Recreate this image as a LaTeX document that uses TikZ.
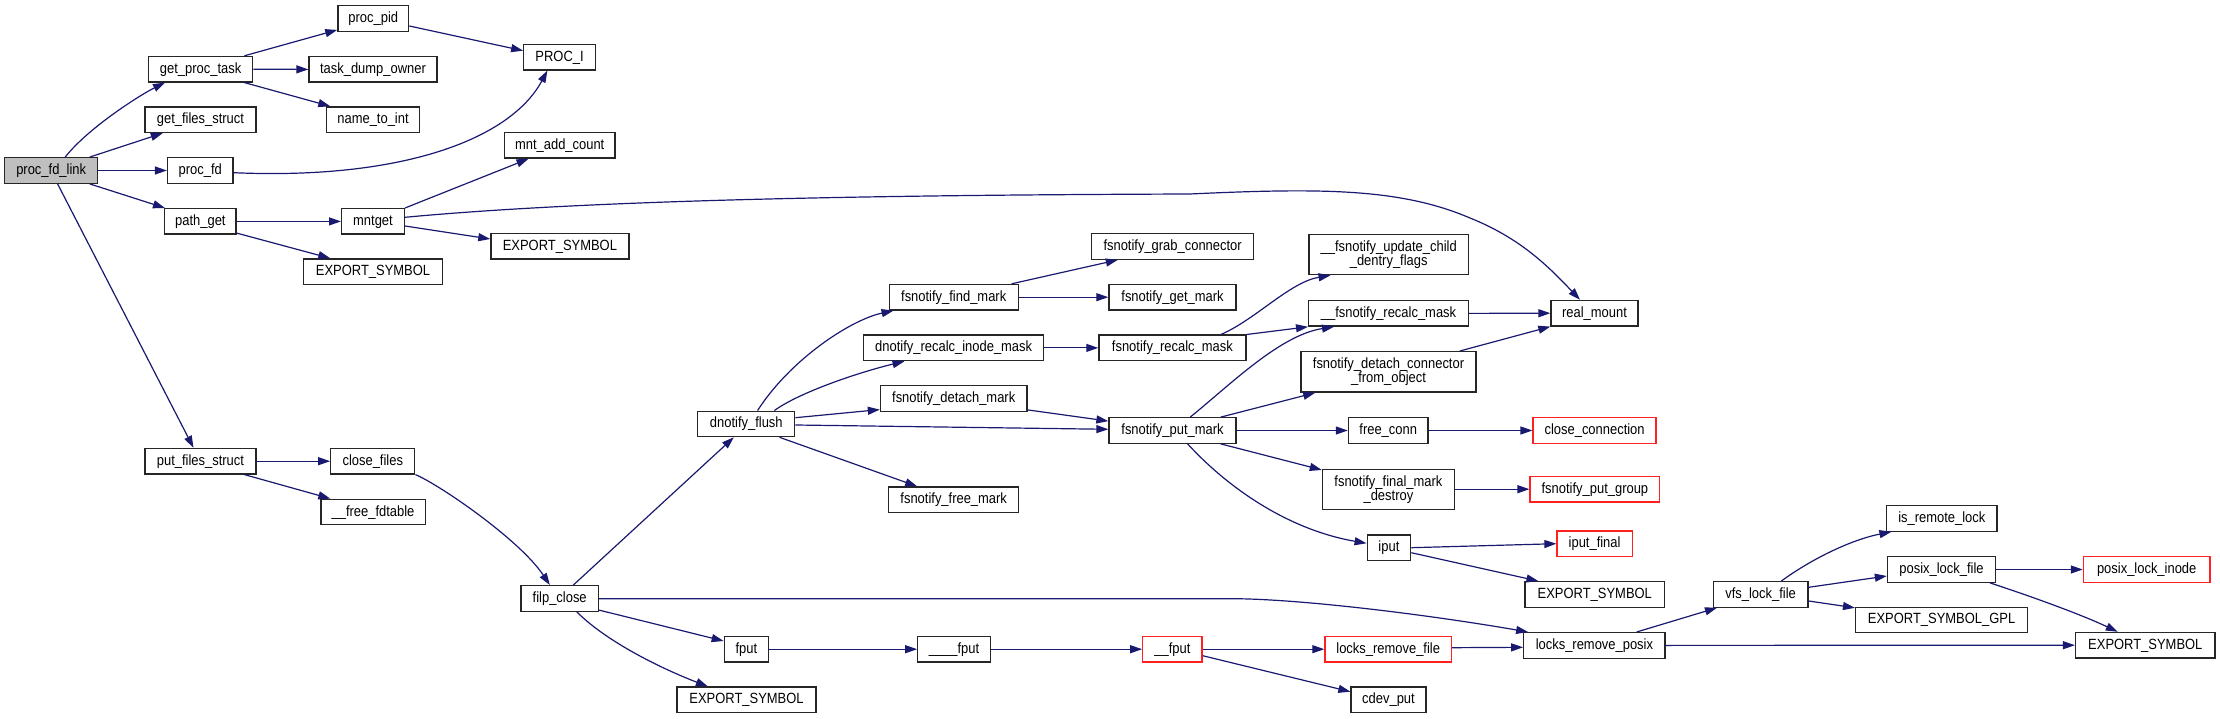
\documentclass[tikz,border=0pt]{standalone}
\usepackage{fontspec}
\setmainfont[FakeStretch=0.875]{Liberation Sans}
\usetikzlibrary{arrows.meta}
\definecolor{navy}{HTML}{191970}
\definecolor{nodegray}{HTML}{BFBFBF}
\definecolor{redline}{HTML}{FF2020}
\newcommand\lblfont{\fontsize{14.8}{14}\selectfont}
\begin{document}
\begin{tikzpicture}[x=1pt,y=-1pt,
  boxbase/.style={draw=black!85, line width=1.3pt, fill=white, inner sep=0pt, minimum height=25.5pt, font=\lblfont},
  box/.style={boxbase, text height=11pt, text depth=3pt},
  twobox/.style={boxbase, align=center, minimum height=40.4pt},
  redbox/.style={box, draw=redline},
  edge/.style={draw=navy, line width=1.2pt, -{Triangle[length=12pt,width=8pt]}}]
\useasboundingbox (0,0) rectangle (2220,719);
% nodes
\node[box, fill=nodegray, minimum width=93pt] (pfl) at (51.2,170.5) {proc\_fd\_link};
\node[box, minimum width=104pt] (gpt) at (200.6,69.2) {get\_proc\_task};
\node[box, minimum width=111pt] (gfs) at (200.4,119.7) {get\_files\_struct};
\node[box, minimum width=65.6pt] (pfd) at (200.3,170.5) {proc\_fd};
\node[box, minimum width=71.3pt] (pg) at (200.4,221.4) {path\_get};
\node[box, minimum width=111pt] (pfs) at (200.4,461.2) {put\_files\_struct};
\node[box, minimum width=70.8pt] (ppid) at (373.3,18.5) {proc\_pid};
\node[box, minimum width=128pt] (tdo) at (373,69.4) {task\_dump\_owner};
\node[box, minimum width=93pt] (nti) at (373,119.7) {name\_to\_int};
\node[box, minimum width=62.7pt] (mntget) at (373,221.4) {mntget};
\node[box, minimum width=139pt] (es1) at (373,271.7) {EXPORT\_SYMBOL};
\node[box, minimum width=84pt] (cf) at (372.8,461.2) {close\_files};
\node[box, minimum width=104.3pt] (fft) at (373,512) {\_\_free\_fdtable};
\node[box, minimum width=71.7pt] (proci) at (559.6,57.2) {PROC\_I};
\node[box, minimum width=110.4pt] (mac) at (559.7,145.4) {mnt\_add\_count};
\node[box, minimum width=138pt] (es2) at (559.9,246.4) {EXPORT\_SYMBOL};
\node[box, minimum width=77.4pt] (fc) at (559.7,598.4) {filp\_close};
\node[box, minimum width=97pt] (dnf) at (746.3,423.9) {dnotify\_flush};
\node[box, minimum width=44pt] (fput) at (746.3,649.2) {fput};
\node[box, minimum width=139pt] (es3) at (746.5,699.8) {EXPORT\_SYMBOL};
\node[box, minimum width=129pt] (ffm) at (953.7,297.2) {fsnotify\_find\_mark};
\node[box, minimum width=180pt] (drim) at (953.7,347.9) {dnotify\_recalc\_inode\_mask};
\node[box, minimum width=146.5pt] (fdm) at (953.7,398.5) {fsnotify\_detach\_mark};
\node[box, minimum width=130pt] (ffrm) at (953.7,499.8) {fsnotify\_free\_mark};
\node[box, minimum width=72.4pt] (ufput) at (954,649.2) {\_\_\_\_fput};
\node[box, minimum width=162pt] (fgc) at (1172.6,246.5) {fsnotify\_grab\_connector};
\node[box, minimum width=127pt] (fgm) at (1172.5,297.2) {fsnotify\_get\_mark};
\node[box, minimum width=147pt] (frm) at (1172.4,347.9) {fsnotify\_recalc\_mask};
\node[box, minimum width=127pt] (fpm) at (1172.5,430.5) {fsnotify\_put\_mark};
\node[redbox, minimum width=59.2pt] (dfput) at (1172.4,649.2) {\_\_fput};
\node[twobox, minimum width=159.3pt] (fucd) at (1388.7,254.5) {\_\_fsnotify\_update\_child\\\_dentry\_flags};
\node[box, minimum width=159.7pt] (dfrm) at (1388.5,313.4) {\_\_fsnotify\_recalc\_mask};
\node[twobox, minimum width=175pt] (fdco) at (1388.5,371.9) {fsnotify\_detach\_connector\\\_from\_object};
\node[box, minimum width=79.6pt] (fconn) at (1388.2,430.5) {free\_conn};
\node[twobox, minimum width=132pt, minimum height=40pt] (ffmd) at (1388.4,489.2) {fsnotify\_final\_mark\\\_destroy};
\node[box, minimum width=43.4pt] (iput) at (1388.9,547.7) {iput};
\node[redbox, minimum width=126.5pt] (lrf) at (1388.2,649.2) {locks\_remove\_file};
\node[box, minimum width=75pt] (cdev) at (1388.5,699.8) {cdev\_put};
\node[box, minimum width=87pt] (rm) at (1594.5,313.2) {real\_mount};
\node[redbox, minimum width=123pt] (cc) at (1594.6,430.5) {close\_connection};
\node[redbox, minimum width=129.7pt] (fpg) at (1594.9,489.2) {fsnotify\_put\_group};
\node[redbox, minimum width=75.2pt] (ipf) at (1594.6,543.7) {iput\_final};
\node[box, minimum width=139.6pt] (es4) at (1594.8,594.5) {EXPORT\_SYMBOL};
\node[box, minimum width=141.3pt] (lrp) at (1594.4,645.4) {locks\_remove\_posix};
\node[box, minimum width=94.8pt] (vlf) at (1760.6,594.4) {vfs\_lock\_file};
\node[box, minimum width=110.5pt] (irl) at (1941.8,518.4) {is\_remote\_lock};
\node[box, minimum width=108pt] (plf) at (1941.5,569.5) {posix\_lock\_file};
\node[box, minimum width=172pt] (esgpl) at (1941.6,619.9) {EXPORT\_SYMBOL\_GPL};
\node[redbox, minimum width=126.6pt] (pli) at (2146.7,569.5) {posix\_lock\_inode};
\node[box, minimum width=139.5pt] (es5) at (2145.3,645.2) {EXPORT\_SYMBOL};
% edges
\draw[edge] ([xshift=14pt]pfl.north) .. controls (88,128) and (140,95) .. ([xshift=-35.6pt]gpt.south);
\draw[edge] ([xshift=38.5pt]pfl.north) -- ([xshift=-37.6pt]gfs.south);
\draw[edge] (pfl.east) -- (pfd.west);
\draw[edge] ([xshift=38.5pt]pfl.south) -- ([xshift=-35.4pt]pg.north);
\draw[edge] ([xshift=6.4pt]pfl.south) -- ([xshift=-6.9pt]pfs.north);
\draw[edge] ([xshift=43.8pt]gpt.north) -- ([yshift=2pt]ppid.south west);
\draw[edge] (gpt.east) -- (tdo.west);
\draw[edge] ([xshift=43.8pt]gpt.south) -- ([xshift=-42.7pt]nti.north);
\draw[edge] ([yshift=-7.5pt]ppid.east) -- ([yshift=6.5pt]proci.west);
\draw[edge] ([yshift=-2.2pt]pfd.east) .. controls (400,180) and (510,140) .. ([xshift=-12.2pt]proci.south);
\draw[edge] (pg.east) -- (mntget.west);
\draw[edge] ([yshift=1.7pt]pg.south east) -- ([xshift=-42.7pt]es1.north);
\draw[edge] (mntget.north east) -- ([xshift=-31.2pt]mac.south);
\draw[edge] ([yshift=-4.6pt]mntget.east) -- ([yshift=7.4pt]es2.west);
\draw[edge] ([yshift=4.1pt]mntget.east) .. controls (600,199) and (900,195) .. (1190,194) .. controls (1320,188) and (1400,188) .. (1470,218) .. controls (1520,238) and (1548,266) .. ([xshift=-14.5pt]rm.north);
\draw[edge] (pfs.east) -- (cf.west);
\draw[edge] ([xshift=44pt]pfs.south) -- ([xshift=-42.7pt]fft.north);
\draw[edge] (cf.south east) .. controls (440,485) and (520,540) .. ([xshift=-9.9pt]fc.north);
\draw[edge] ([xshift=13.7pt]fc.north) -- ([xshift=-12.5pt]dnf.south);
\draw[edge] ([yshift=-0.3pt]fc.east) -- (1231,598.7) .. controls (1300,598.7) and (1430,615) .. ([xshift=5pt]lrp.north west);
\draw[edge] ([yshift=1.7pt]fc.south east) -- ([yshift=8.2pt]fput.west);
\draw[edge] ([xshift=17pt]fc.south) .. controls (610,645) and (670,672) .. ([xshift=-38.6pt]es3.north);
\draw[edge] ([xshift=11.3pt]dnf.north) .. controls (790,360) and (850,320) .. ([xshift=5pt]ffm.south west);
\draw[edge] ([xshift=28.1pt]dnf.north) .. controls (800,392) and (860,372) .. ([xshift=-49.2pt]drim.south);
\draw[edge] ([yshift=6.2pt]dnf.east) -- ([yshift=2.3pt]fdm.south west);
\draw[edge] ([yshift=-1.1pt]dnf.east) -- ([yshift=1.2pt]fpm.west);
\draw[edge] ([xshift=33.2pt]dnf.south) -- ([xshift=-36.5pt]ffrm.north);
\draw[edge] ([xshift=57.9pt]ffm.north) -- ([xshift=-54.8pt]fgc.south);
\draw[edge] (ffm.east) -- (fgm.west);
\draw[edge] (drim.east) -- (frm.west);
\draw[edge] ([yshift=2pt]fdm.south east) -- ([yshift=-4pt]fpm.north west);
\draw[edge] ([xshift=48.4pt]frm.north) .. controls (1255,320) and (1290,282) .. ([xshift=-58.2pt]fucd.south);
\draw[edge] (frm.north east) -- (dfrm.south west);
\draw[edge] ([xshift=17.7pt]fpm.north) .. controls (1230,385) and (1280,335) .. ([xshift=-54.5pt]dfrm.south);
\draw[edge] ([xshift=48.3pt]fpm.north) -- ([xshift=-73.3pt]fdco.south);
\draw[edge] (fpm.east) -- (fconn.west);
\draw[edge] ([xshift=48.3pt]fpm.south) -- ([yshift=-1.4pt]ffmd.north west);
\draw[edge] ([xshift=15.1pt]fpm.south) .. controls (1230,490) and (1290,530) .. ([yshift=4.4pt]iput.west);
\draw[edge] (dfrm.east) -- (rm.west);
\draw[edge] ([xshift=-17pt]fdco.north east) -- (rm.south west);
\draw[edge] (fconn.east) -- (cc.west);
\draw[edge] (ffmd.east) -- (fpg.west);
\draw[edge] (iput.east) -- (ipf.west);
\draw[edge] ([yshift=-5pt]iput.east) -- ([xshift=-56.4pt]es4.north);
\draw[edge] (fput.east) -- (ufput.west);
\draw[edge] (ufput.east) -- (dfput.west);
\draw[edge] (dfput.east) -- (lrf.west);
\draw[edge] ([yshift=-6.5pt]dfput.east) -- ([yshift=8.1pt]cdev.west);
\draw[edge] ([yshift=1.5pt]lrf.east) -- ([yshift=-1.9pt]lrp.west);
\draw[edge] ([xshift=42.2pt]lrp.north) -- ([xshift=4.4pt]vlf.south west);
\draw[edge] (lrp.east) -- (es5.west);
\draw[edge] ([xshift=20.8pt]vlf.north) .. controls (1810,560) and (1850,540) .. ([xshift=5.5pt]irl.south west);
\draw[edge] ([yshift=7.1pt]vlf.east) -- ([yshift=-6.5pt]plf.west);
\draw[edge] ([yshift=-6.6pt]vlf.east) -- ([yshift=-1.3pt]esgpl.north west);
\draw[edge] (plf.east) -- (pli.west);
\draw[edge] ([xshift=48.5pt]plf.south) .. controls (2030,596) and (2080,614) .. ([xshift=-27.5pt]es5.north);
\end{tikzpicture}
\end{document}
